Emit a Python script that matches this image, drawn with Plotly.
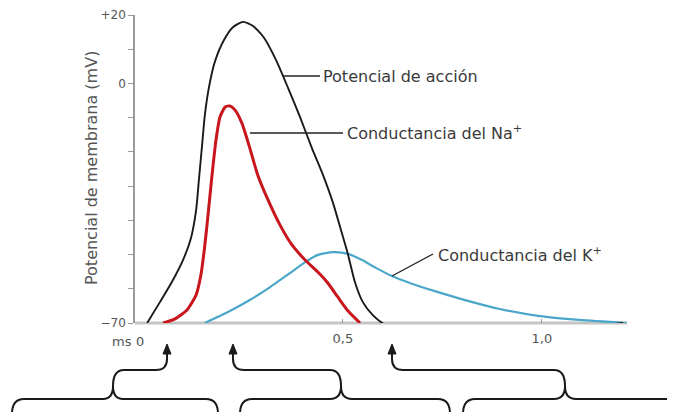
import plotly.graph_objects as go

# ---- data (time in ms, values on the chart's mV scale) ----
ap_t = [0.008, 0.040, 0.070, 0.098, 0.118, 0.131, 0.138, 0.146, 0.153, 0.163, 0.178, 0.201,
        0.224, 0.249, 0.274, 0.302, 0.332, 0.362, 0.392, 0.422, 0.450, 0.475, 0.495, 0.513,
        0.530, 0.550, 0.575, 0.606, 0.643, 0.693, 0.744, 0.945, 1.204]
ap_v = [-70, -63.9, -58.0, -51.6, -45.2, -37.0, -28.2, -18.0, -9.2, -1.3, 6.3, 12.7,
        16.5, 18.0, 16.8, 13.3, 6.8, -1.3, -9.8, -18.9, -26.8, -34.9, -42.8, -50.1,
        -58.0, -63.9, -67.7, -70.6, -72.9, -74.1, -74.4, -73.2, -70]

na_t = [0.048, 0.078, 0.108, 0.131, 0.143, 0.153, 0.161, 0.171, 0.181, 0.191, 0.204, 0.216,
        0.229, 0.246, 0.266, 0.286, 0.312, 0.342, 0.372, 0.405, 0.437, 0.462, 0.487, 0.513,
        0.543]
na_v = [-70, -68.8, -66.2, -61.8, -56.0, -47.2, -38.4, -26.8, -16.5, -9.8, -6.9, -6.6,
        -7.8, -11.6, -18.9, -26.8, -34.1, -41.4, -47.2, -51.6, -55.1, -58.3, -62.4, -66.5,
        -70]

k_t = [0.153, 0.211, 0.266, 0.317, 0.367, 0.405, 0.437, 0.475, 0.513, 0.548, 0.583, 0.623,
       0.668, 0.731, 0.807, 0.894, 0.995, 1.095, 1.214]
k_v = [-70, -66.8, -63.3, -59.5, -55.4, -52.2, -50.1, -49.3, -49.8, -51.6, -53.9, -56.3,
       -58.3, -60.7, -63.3, -65.9, -68.0, -69.1, -70]

y_ticks = [-70, 0, 20]
y_ticktext = ["\u221270", "0", "+20"]
y_minor_step = 10
x_ticks = [0.5, 1.0]
x_ticktext = ["0,5", "1,0"]

labels = ["Potencial de acción", "Conductancia del Na<sup>+</sup>", "Conductancia del K<sup>+</sup>"]
y_title = "Potencial de membrana (mV)"

# ---- layout geometry (figure pixels; the page body adds an 8px offset) ----
W_FIG, H_FIG = 675, 412
OFF = 8
L, T, PW, PH = 135 - OFF, 15 - OFF, 500, 308
R = W_FIG - L - PW
B = H_FIG - T - PH


def px(x):  # screenshot x -> paper
    return (x - OFF - L) / PW


def py(y):  # screenshot y -> paper
    return (T + PH - (y - OFF)) / PH


def path(cmds):
    out = []
    for c in cmds:
        if isinstance(c, str):
            out.append(c)
        else:
            out.append(f"{px(c[0]):.5f},{py(c[1]):.5f}")
    return " ".join(out)


fig = go.Figure()
fig.add_trace(go.Scatter(x=k_t, y=k_v, mode="lines",
                         line=dict(color="#4ba7c9", width=2.2, shape="spline", smoothing=0.6),
                         hoverinfo="skip"))
fig.add_trace(go.Scatter(x=na_t, y=na_v, mode="lines",
                         line=dict(color="#c8161d", width=3, shape="spline", smoothing=0.6),
                         hoverinfo="skip"))
fig.add_trace(go.Scatter(x=ap_t, y=ap_v, mode="lines",
                         line=dict(color="#1a1a1a", width=1.9, shape="spline", smoothing=0.6),
                         hoverinfo="skip"))

shapes = []
# baseline (x axis)
shapes.append(dict(type="line", xref="paper", yref="paper", x0=px(135), x1=px(627), y0=py(323), y1=py(323),
                   line=dict(color="#c4c4c4", width=3), layer="below"))
# leader lines
line_style = dict(color="#222", width=1.3)
for (x0, y0, x1, y1) in [(283, 76, 320, 76), (250, 133, 343, 133), (392, 276, 433, 254)]:
    shapes.append(dict(type="line", xref="paper", yref="paper", x0=px(x0), y0=py(y0), x1=px(x1), y1=py(y1),
                       line=line_style))

brace_style = dict(color="#1a1a1a", width=2)
braces = [
    ["M", (12, 414), "Q", (12, 399), (24, 399), "L", (103, 399), "Q", (113, 399), (113, 386),
     "Q", (113, 399), (123, 399), "L", (206, 399), "Q", (218, 399), (218, 414)],
    ["M", (240, 414), "Q", (240, 399), (252, 399), "L", (330, 399), "Q", (341, 399), (341, 386),
     "Q", (341, 399), (352, 399), "L", (438, 399), "Q", (450, 399), (450, 414)],
    ["M", (463, 414), "Q", (463, 399), (475, 399), "L", (554, 399), "Q", (565, 399), (565, 386),
     "Q", (565, 399), (576, 399), "L", (690, 399)],
    ["M", (113, 386), "Q", (113, 370), (124, 370), "L", (156, 370), "Q", (167, 370), (167, 359),
     "L", (167, 352)],
    ["M", (341, 386), "Q", (341, 370), (330, 370), "L", (244, 370), "Q", (233, 370), (233, 359),
     "L", (233, 352)],
    ["M", (565, 386), "Q", (565, 370), (554, 370), "L", (403, 370), "Q", (392, 370), (392, 359),
     "L", (392, 352)],
]
for b in braces:
    shapes.append(dict(type="path", xref="paper", yref="paper", path=path(b), line=brace_style))
for ax_ in (167, 233, 392):
    shapes.append(dict(type="path", xref="paper", yref="paper",
                       path=path(["M", (ax_ - 4, 354), "L", (ax_ + 4, 354), "L", (ax_, 344), "Z"]),
                       fillcolor="#1a1a1a", line=dict(color="#1a1a1a", width=1)))

FONT = "DejaVu Sans"
text_font = dict(family=FONT, size=16, color="#3a3a3a")
ann = [
    dict(xref="paper", yref="paper", x=px(321), y=py(76), text=labels[0], showarrow=False,
         xanchor="left", yanchor="middle", font=text_font),
    dict(xref="paper", yref="paper", x=px(345), y=py(133), text=labels[1], showarrow=False,
         xanchor="left", yanchor="middle", font=text_font),
    dict(xref="paper", yref="paper", x=px(436), y=py(254), text=labels[2], showarrow=False,
         xanchor="left", yanchor="middle", font=text_font),
    dict(xref="paper", yref="paper", x=px(91), y=py(168), text=y_title,
         textangle=-90, showarrow=False, xanchor="center", yanchor="middle",
         font=dict(family=FONT, size=16, color="#555")),
    dict(xref="paper", yref="paper", x=px(134), y=py(341), text="ms", showarrow=False,
         xanchor="right", yanchor="middle", font=dict(family=FONT, size=13, color="#555")),
    dict(xref="x", yref="paper", x=-0.01, y=py(341), text="0", showarrow=False,
         xanchor="center", yanchor="middle", font=dict(family=FONT, size=13, color="#555")),
]

fig.update_layout(
    width=W_FIG, height=H_FIG,
    margin=dict(l=L, r=R, t=T, b=B, pad=0, autoexpand=False),
    paper_bgcolor="white", plot_bgcolor="white",
    showlegend=False,
    shapes=shapes, annotations=ann,
    xaxis=dict(range=[-0.0226, 1.234], showgrid=False, zeroline=False, showline=False, automargin=False,
               tickvals=x_ticks, ticktext=x_ticktext, ticks="inside", ticklen=4, tickcolor="#999",
               tickfont=dict(family=FONT, size=13, color="#555"), ticklabelstandoff=6),
    yaxis=dict(range=[-70, 20], showgrid=False, zeroline=False, showline=True, linecolor="#999",
               automargin=False, linewidth=1.5, tickvals=y_ticks, ticktext=y_ticktext, ticks="outside",
               ticklen=5, tickcolor="#999", tickwidth=1.2, ticklabeloverflow="allow",
               tickfont=dict(family=FONT, size=12, color="#555"),
               minor=dict(ticks="outside", tick0=-70, dtick=y_minor_step, ticklen=5, tickcolor="#999",
                          tickwidth=1.2, showgrid=False)),
)

fig.write_html("out.html")
